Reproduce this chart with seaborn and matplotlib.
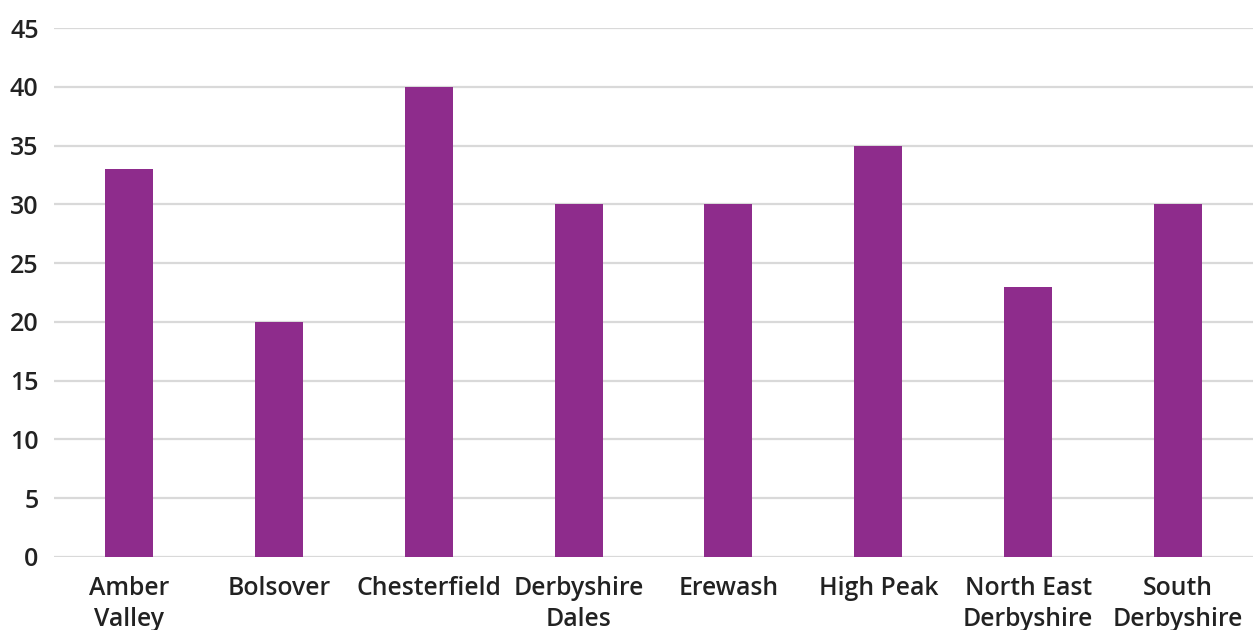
import pandas as pd
import matplotlib.pyplot as plt
import seaborn as sns

# --- data ---
districts = ["Amber\nValley", "Bolsover", "Chesterfield", "Derbyshire\nDales",
             "Erewash", "High Peak", "North East\nDerbyshire", "South\nDerbyshire"]
values = [33, 20, 40, 30, 30, 35, 23, 30]
yticks = [0, 5, 10, 15, 20, 25, 30, 35, 40, 45]

df = pd.DataFrame({"district": districts, "value": values})

sns.set_style("white")
plt.rcParams["font.family"] = ["Open Sans", "DejaVu Sans"]

fig = plt.figure(figsize=(12.53, 6.3), dpi=100)
ax = fig.add_axes([54 / 1253, 73 / 630, 1 - 54 / 1253, 529 / 630])

sns.barplot(data=df, x="district", y="value", color="#8e2c8c",
            width=0.32, saturation=1, linewidth=0, ax=ax, zorder=3)

ax.set_ylim(0, 45)
ax.set_xlim(-0.5, len(districts) - 0.5)
ax.set_yticks(yticks)
ax.yaxis.grid(True, color="#d9d9d9", linewidth=1.6, zorder=0)
ax.set_axisbelow(True)
for s in ax.spines.values():
    s.set_visible(False)

ax.tick_params(axis="x", length=0, labelsize=17.8, labelcolor="#222222", pad=14)
ax.tick_params(axis="y", length=0, labelsize=18, labelcolor="#222222", pad=11)
for lab in ax.get_xticklabels() + ax.get_yticklabels():
    lab.set_fontweight("semibold")
for lab in ax.get_xticklabels():
    lab.set_linespacing(1.3)

ax.set_xlabel("")
ax.set_ylabel("")

plt.savefig("out.png", dpi=100)
